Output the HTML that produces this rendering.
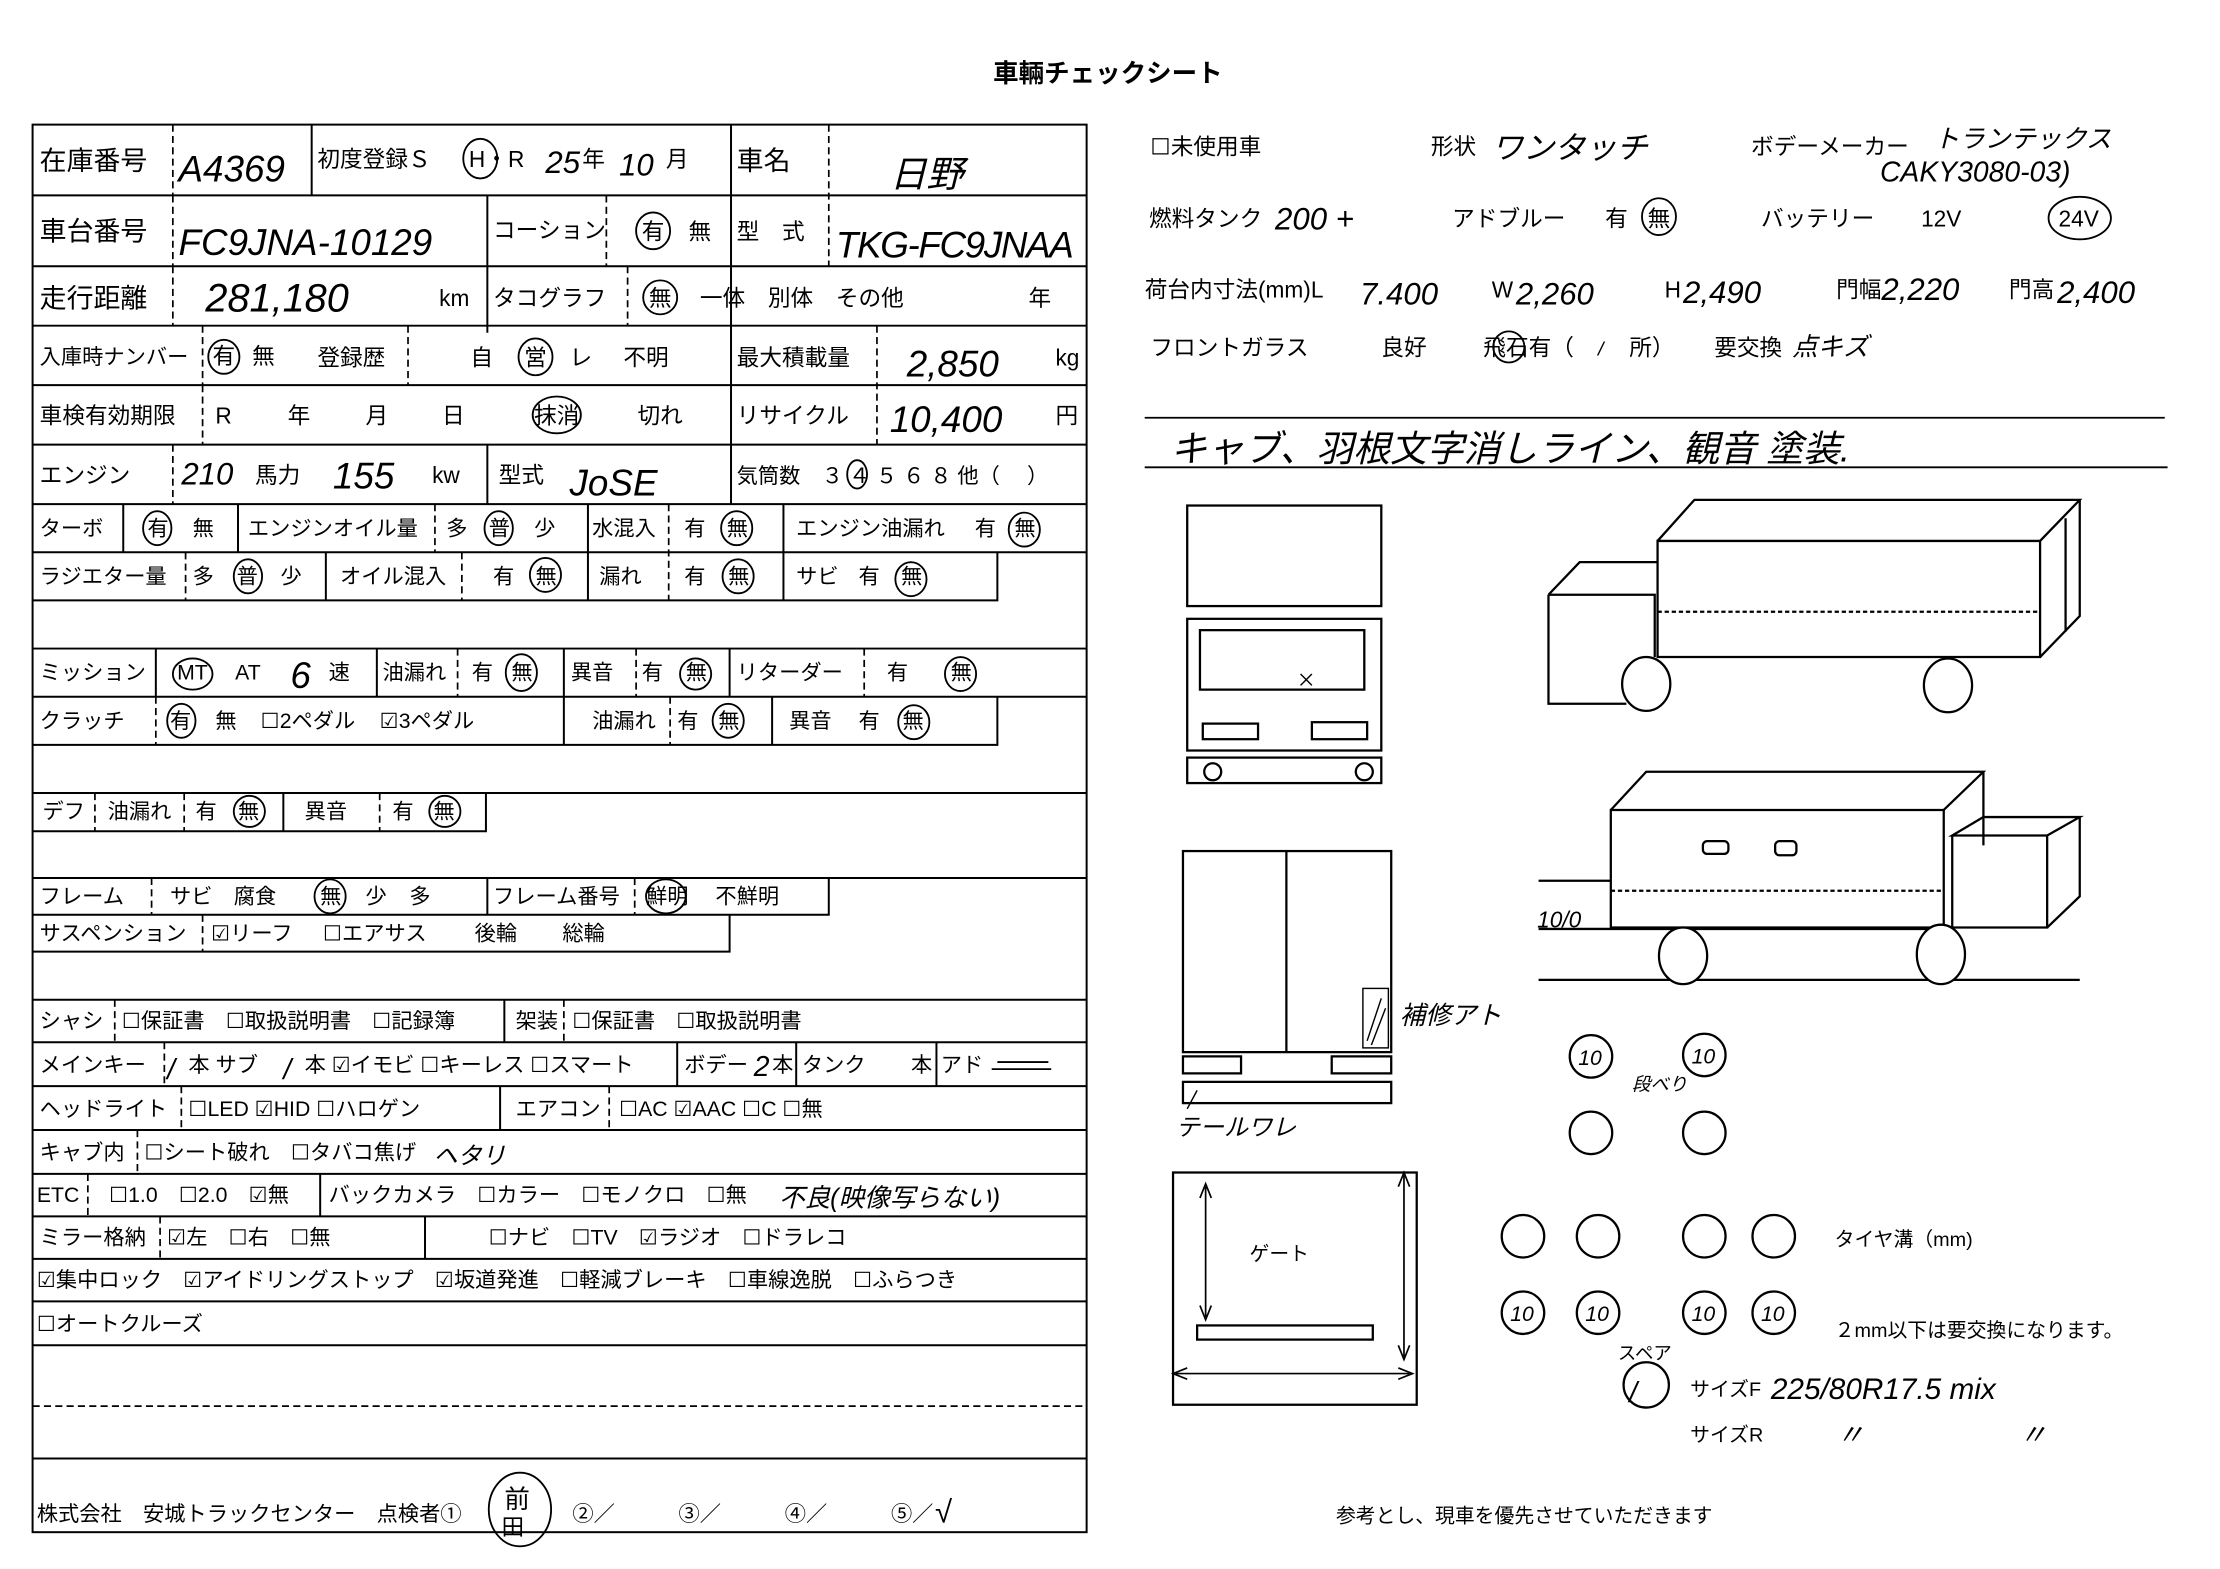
<!DOCTYPE html>
<html><head><meta charset="utf-8"><style>
html,body{margin:0;padding:0;background:#fff;}
svg{display:block;}
text{font-family:"Liberation Sans","Noto Sans CJK JP",sans-serif;fill:#000;}
.h{font-family:"Liberation Sans","Noto Sans CJK JP",sans-serif;font-style:italic;}
</style></head><body>
<svg width="2220" height="1569" viewBox="0 0 1567 1108" preserveAspectRatio="none" xmlns="http://www.w3.org/2000/svg">
<rect width="1567" height="1108" fill="#fff"/>
<text x="782" y="58" font-size="18" font-weight="bold" text-anchor="middle">車輛チェックシート</text>

<g stroke="#000" stroke-width="1.4" fill="none">
<rect x="23" y="88" width="744" height="994"/>
<path d="M23 138H767M23 188H767M23 230H767M23 272H767M23 314H767M23 356H767M23 390H767M23 458H767M23 492H767M23 706H767M23 736H767M23 767H767M23 798H767M23 829H767M23 859H767M23 889H767M23 919H767M23 950H767M23 1030H767"/>
<path d="M23 424H704V390M23 526H704V492M23 560H767M23 587H343V560M23 620H767M23 646H585V620M23 672H515V646"/>
<path d="M220 88V138M516 88V356M344 138V235M344 314V356M87 356V390M168 356V390M415 356V424M553 356V424M230 390V424M110 458V492M266 458V492M398 458V526M515 458V492M545 492V526M200 560V587M344 620V646M356 706V736M478 736V767M562 736V767M661 736V767M353 767V798M226 829V859M300 859V889"/>
</g>
<g stroke="#000" stroke-width="1.2" fill="none" stroke-dasharray="5,3">
<path d="M122 88V138M585 88V188M122 138V188M428 138V188M122 188V230M443 188V230M143 230V272M288 230V272M619 230V314M143 272V314M122 314V356M307 356V390M472 356V424M131 390V424M326 390V424M323 458V492M449 458V492M610 458V492M110 492V526M473 492V526M67 560V587M130 560V587M268 560V587M107 620V646M448 620V646M143 646V672M81 706V736M398 706V736M116 736V767M128 767V798M430 767V798M97 798V829M62 829V859M113 859V889M23 993H767"/>
</g>

<g font-size="19">
<text x="28" y="120">在庫番号</text>
<text x="28" y="170">車台番号</text>
<text x="28" y="217">走行距離</text>
<text x="520" y="120">車名</text>
</g>
<g font-size="16">
<text x="224" y="118">初度登録Ｓ</text><text x="331" y="118">H・R</text><text x="411" y="118">年</text><text x="470" y="118">月</text>
<text x="348" y="168">コーション</text><text x="453" y="169">有</text><text x="486" y="169">無</text>
<text x="520" y="169">型　式</text>
<text x="310" y="216">km</text><text x="348" y="216">タコグラフ</text><text x="458" y="216">無</text><text x="494" y="216">一体　別体　その他</text><text x="726" y="216">年</text>
<text x="28" y="257" font-size="15">入庫時ナンバー</text><text x="150" y="257">有</text><text x="178" y="257">無</text>
<text x="224" y="258">登録歴</text><text x="332" y="258">自</text><text x="370" y="258">営</text><text x="402" y="258">レ</text><text x="440" y="258">不明</text>
<text x="520" y="258">最大積載量</text><text x="745" y="258">kg</text>
<text x="28" y="299">車検有効期限</text><text x="152" y="299">R</text><text x="203" y="299">年</text><text x="258" y="299">月</text><text x="312" y="299">日</text><text x="377" y="299">抹消</text><text x="450" y="299">切れ</text>
<text x="520" y="299">リサイクル</text><text x="745" y="299">円</text>
<text x="28" y="341">エンジン</text><text x="180" y="341">馬力</text><text x="305" y="341">kw</text>
<text x="352" y="341">型式</text><text x="520" y="341" font-size="15">気筒数</text><text x="580" y="341" font-size="15">３ ４ ５ ６ ８ 他（　 ）</text>
</g>
<g font-size="15">
<text x="28" y="378">ターボ</text><text x="104" y="378">有</text><text x="136" y="378">無</text><text x="175" y="378">エンジンオイル量</text><text x="315" y="378">多</text><text x="345" y="378">普</text><text x="377" y="378">少</text><text x="418" y="378">水混入</text><text x="483" y="378">有</text><text x="513" y="378">無</text><text x="562" y="378">エンジン油漏れ</text><text x="688" y="378">有</text><text x="716" y="378">無</text>
<text x="28" y="412">ラジエター量</text><text x="136" y="412">多</text><text x="167" y="412">普</text><text x="198" y="412">少</text><text x="240" y="412">オイル混入</text><text x="348" y="412">有</text><text x="378" y="412">無</text><text x="423" y="412">漏れ</text><text x="483" y="412">有</text><text x="514" y="412">無</text><text x="562" y="412">サビ</text><text x="606" y="412">有</text><text x="636" y="412">無</text>
<text x="28" y="480">ミッション</text><text x="125" y="480">MT</text><text x="166" y="480">AT</text><text x="232" y="480">速</text><text x="270" y="480">油漏れ</text><text x="333" y="480">有</text><text x="361" y="480">無</text><text x="403" y="480">異音</text><text x="453" y="480">有</text><text x="484" y="480">無</text><text x="520" y="480">リターダー</text><text x="626" y="480">有</text><text x="671" y="480">無</text>
<text x="28" y="514">クラッチ</text><text x="120" y="514">有</text><text x="152" y="514">無</text><text x="184" y="514">☐2ペダル</text><text x="268" y="514">☑3ペダル</text><text x="418" y="514">油漏れ</text><text x="478" y="514">有</text><text x="507" y="514">無</text><text x="557" y="514">異音</text><text x="606" y="514">有</text><text x="637" y="514">無</text>
<text x="30" y="578">デフ</text><text x="76" y="578">油漏れ</text><text x="138" y="578">有</text><text x="168" y="578">無</text><text x="215" y="578">異音</text><text x="277" y="578">有</text><text x="306" y="578">無</text>
<text x="28" y="638">フレーム</text><text x="120" y="638">サビ</text><text x="165" y="638">腐食</text><text x="226" y="638">無</text><text x="258" y="638">少</text><text x="289" y="638">多</text><text x="348" y="638">フレーム番号</text><text x="456" y="638">鮮明</text><text x="505" y="638">不鮮明</text>
<text x="28" y="664">サスペンション</text><text x="149" y="664">☑リーフ</text><text x="228" y="664">☐エアサス</text><text x="335" y="664">後輪</text><text x="397" y="664">総輪</text>
<text x="28" y="726">シャシ</text><text x="86" y="726">☐保証書　☐取扱説明書　☐記録簿</text><text x="364" y="726">架装</text><text x="404" y="726">☐保証書　☐取扱説明書</text>
<text x="28" y="757">メインキー</text><text x="133" y="757">本 サブ</text><text x="215" y="757">本 ☑イモビ ☐キーレス ☐スマート</text><text x="483" y="757">ボデー</text><text x="545" y="757">本</text><text x="566" y="757">タンク</text><text x="643" y="757">本</text><text x="664" y="757">アド</text>
<text x="28" y="788">ヘッドライト</text><text x="133" y="788">☐LED ☑HID ☐ハロゲン</text><text x="364" y="788">エアコン</text><text x="437" y="788">☐AC ☑AAC ☐C ☐無</text>
<text x="28" y="819">キャブ内</text><text x="102" y="819">☐シート破れ　☐タバコ焦げ</text>
<text x="26" y="849">ETC</text><text x="77" y="849">☐1.0　☐2.0　☑無</text><text x="232" y="849">バックカメラ　☐カラー　☐モノクロ　☐無</text>
<text x="28" y="879">ミラー格納</text><text x="118" y="879">☑左　☐右　☐無</text><text x="345" y="879">☐ナビ　☐TV　☑ラジオ　☐ドラレコ</text>
<text x="26" y="909">☑集中ロック　☑アイドリングストップ　☑坂道発進　☐軽減ブレーキ　☐車線逸脱　☐ふらつき</text>
<text x="26" y="940">☐オートクルーズ</text>
<text x="26" y="1074">株式会社　安城トラックセンター　点検者①</text><text x="404" y="1074">②／　　　③／　　　④／　　　⑤／</text>
</g>
<g class="h" font-size="26">
<text x="126" y="128">A4369</text>
<text x="385" y="122" font-size="22">25</text><text x="437" y="124" font-size="22">10</text>
<text x="628" y="132">日野</text>
<text x="126" y="180">FC9JNA-10129</text>
<text x="590" y="182" textLength="168">TKG-FC9JNAA</text>
<text x="145" y="220" font-size="28">281,180</text>
<text x="640" y="266">2,850</text>
<text x="628" y="305">10,400</text>
<text x="128" y="342" font-size="22">210</text><text x="235" y="345">155</text>
<text x="402" y="350">JoSE</text>
<text x="205" y="486">6</text>
<text x="532" y="760" font-size="20">2</text>
<text x="306" y="822" font-size="17">ヘタリ</text>
<text x="550" y="852" font-size="18">不良(映像写らない)</text>
<text x="118" y="762" font-size="20">/</text><text x="200" y="762" font-size="20">/</text>
</g>
<g fill="none" stroke="#000" stroke-width="1.3">
<ellipse cx="339" cy="112" rx="12" ry="14"/><ellipse cx="461" cy="163" rx="12" ry="13"/><ellipse cx="466" cy="210" rx="12" ry="12"/>
<ellipse cx="158" cy="252" rx="11" ry="12"/><ellipse cx="378" cy="252" rx="12" ry="13"/><ellipse cx="393" cy="293" rx="17" ry="13"/>
<ellipse cx="605" cy="335" rx="7" ry="10"/><ellipse cx="111" cy="373" rx="10" ry="12"/><ellipse cx="352" cy="373" rx="10" ry="12"/>
<ellipse cx="520" cy="373" rx="11" ry="12"/><ellipse cx="723" cy="374" rx="11" ry="12"/><ellipse cx="175" cy="407" rx="10" ry="12"/>
<ellipse cx="385" cy="406" rx="11" ry="12"/><ellipse cx="521" cy="407" rx="11" ry="12"/><ellipse cx="643" cy="409" rx="11" ry="12"/>
<ellipse cx="136" cy="476" rx="14" ry="11"/><ellipse cx="368" cy="475" rx="11" ry="13"/><ellipse cx="491" cy="476" rx="11" ry="11"/>
<ellipse cx="678" cy="476" rx="11" ry="12"/><ellipse cx="128" cy="509" rx="10" ry="12"/><ellipse cx="514" cy="509" rx="11" ry="12"/>
<ellipse cx="645" cy="510" rx="11" ry="12"/><ellipse cx="176" cy="573" rx="11" ry="11"/><ellipse cx="314" cy="573" rx="11" ry="11"/>
<ellipse cx="233" cy="633" rx="11" ry="12"/><ellipse cx="470" cy="633" rx="14" ry="12"/>
<ellipse cx="367" cy="1066" rx="22" ry="26"/>
<path d="M700 755H742M704 750H740"/>
</g>
<text x="356" y="1065" font-size="18">前</text><text x="354" y="1084" font-size="16">田</text>
<text x="660" y="1075" class="h" font-size="22">√</text>

<g font-size="16">
<text x="812" y="109">☐未使用車</text><text x="1010" y="109">形状</text><text x="1236" y="109">ボデーメーカー</text>
<text x="811" y="160">燃料タンク</text><text x="1025" y="160">アドブルー</text><text x="1133" y="160">有</text><text x="1163" y="160">無</text><text x="1243" y="160">バッテリー</text><text x="1356" y="160">12V</text><text x="1453" y="160">24V</text>
<text x="808" y="210">荷台内寸法(mm)L</text><text x="1053" y="210">W</text><text x="1175" y="210">H</text><text x="1296" y="210">門幅</text><text x="1418" y="210">門高</text>
<text x="812" y="251">フロントガラス</text><text x="975" y="251">良好</text><text x="1047" y="251">飛石有（</text><text x="1150" y="251">所）</text><text x="1210" y="251">要交換</text>
</g>
<g class="h" font-size="22">
<text x="1053" y="112">ワンタッチ</text>
<text x="1365" y="104" font-size="18">トランテックス</text>
<text x="1327" y="128" font-size="20">CAKY3080-03)</text>
<text x="900" y="162">200 +</text>
<text x="960" y="215">7.400</text><text x="1070" y="215">2,260</text><text x="1188" y="214">2,490</text><text x="1328" y="212">2,220</text><text x="1452" y="214">2,400</text>
<text x="1128" y="251" font-size="14">/</text><text x="1265" y="251" font-size="18">点キズ</text>
<text x="826" y="326" font-size="26">キャブ、羽根文字消しライン、観音 塗装.</text>
<text x="1085" y="655" font-size="16">10/0</text>
<text x="988" y="723" font-size="18">補修アト</text>
<text x="830" y="802" font-size="17">テールワレ</text>
<text x="1150" y="990" font-size="20">/</text>
<text x="1250" y="988" font-size="21">225/80R17.5 mix</text>
<text x="1296" y="1020" font-size="20">〃</text><text x="1425" y="1020" font-size="20">〃</text>
</g>
<g fill="none" stroke="#000" stroke-width="1.3">
<ellipse cx="1171" cy="153" rx="12" ry="13"/><ellipse cx="1468" cy="154" rx="22" ry="15"/><ellipse cx="1065" cy="245" rx="11" ry="11"/>
<path d="M808 295H1528M808 330H1530"/>
</g>

<g fill="none" stroke="#000" stroke-width="1.6">
<rect x="838" y="357" width="137" height="71"/>
<rect x="838" y="437" width="137" height="93"/>
<rect x="847" y="445" width="116" height="42"/>
<rect x="849" y="511" width="39" height="11"/><rect x="926" y="510" width="39" height="12"/>
<rect x="838" y="535" width="137" height="18"/>
<ellipse cx="856" cy="545" rx="6" ry="6"/><ellipse cx="963" cy="545" rx="6" ry="6"/>
<path d="M918 476L926 484M926 476L918 484" stroke-width="1"/>
<path d="M1170 382H1440V464H1170Z"/>
<path d="M1170 382L1196 353H1468L1440 382M1468 353V435L1440 464M1458 366V446"/>
<path d="M1093 420H1168V464M1093 420V497H1148M1093 420L1115 397H1170"/>
<path d="M1170 432H1440" stroke-dasharray="3,2"/>
<ellipse cx="1162" cy="483" rx="17" ry="19" fill="#fff"/><ellipse cx="1375" cy="484" rx="17" ry="19" fill="#fff"/>
<path d="M1137 572H1372V655H1137Z"/>
<path d="M1137 572L1162 545H1400L1372 572M1400 545V597"/>
<path d="M1378 590V655H1445V590H1378L1400 577H1468L1445 590M1468 577V633L1445 655"/>
<path d="M1137 629H1372" stroke-dasharray="3,2"/>
<path d="M1086 622H1137M1086 656H1372M1086 692H1468"/>
<ellipse cx="1188" cy="675" rx="17" ry="20" fill="#fff"/><ellipse cx="1370" cy="674" rx="17" ry="21" fill="#fff"/>
<rect x="1202" y="594" width="18" height="9" rx="3"/><rect x="1253" y="594" width="15" height="10" rx="3"/>
<rect x="835" y="601" width="147" height="142"/>
<path d="M908 601V743"/>
<rect x="962" y="698" width="18" height="42" stroke-width="1"/>
<path d="M965 735L975 705M968 738L978 712" stroke-width="1"/>
<rect x="835" y="746" width="41" height="12"/><rect x="940" y="746" width="42" height="12"/>
<rect x="835" y="764" width="147" height="15"/>
<path d="M845 770L838 783" stroke-width="1"/>
<rect x="828" y="828" width="172" height="164"/>
<rect x="845" y="936" width="124" height="10"/>
<path d="M851 838V930M991 830V958M830 970H995" stroke-width="1.2"/>
<path d="M847 846L851 836L855 846M847 922L851 932L855 922M987 838L991 828L995 838M987 950L991 960L995 950M838 966L828 970L838 974M987 966L997 970L987 974" stroke-width="1.2"/>
<circle cx="1123" cy="746" r="15"/><circle cx="1203" cy="745" r="15"/><circle cx="1123" cy="800" r="15"/><circle cx="1203" cy="800" r="15"/>
<circle cx="1075" cy="873" r="15"/><circle cx="1128" cy="873" r="15"/><circle cx="1203" cy="873" r="15"/><circle cx="1252" cy="873" r="15"/>
<circle cx="1075" cy="927" r="15"/><circle cx="1128" cy="927" r="15"/><circle cx="1203" cy="927" r="15"/><circle cx="1252" cy="927" r="15"/>
<circle cx="1162" cy="978" r="16"/>
</g>
<g class="h" font-size="15">
<text x="1114" y="752">10</text><text x="1194" y="751">10</text>
<text x="1066" y="933">10</text><text x="1119" y="933">10</text><text x="1194" y="933">10</text><text x="1243" y="933">10</text>
<text x="1152" y="770" font-size="13">段べり</text>
</g>
<g font-size="14">
<text x="882" y="890">ゲート</text>
<text x="1295" y="880">タイヤ溝（mm)</text>
<text x="1295" y="944">２mm以下は要交換になります。</text>
<text x="1142" y="960" font-size="13">スペア</text>
<text x="1193" y="986">サイズF</text>
<text x="1193" y="1018">サイズR</text>
<text x="943" y="1075">参考とし、現車を優先させていただきます</text>
</g>
</svg>
</body></html>
